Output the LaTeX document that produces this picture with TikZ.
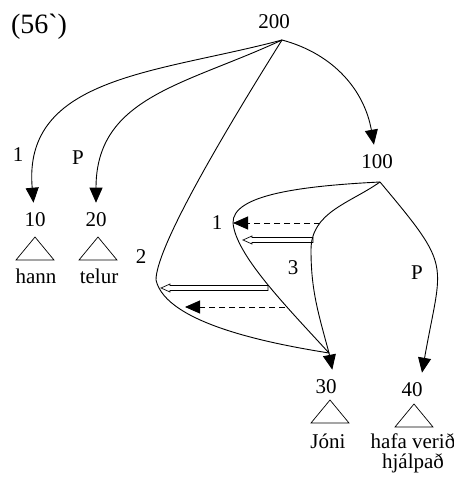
\documentclass[tikz,border=0pt]{standalone}
\usepackage{fontspec}
\setmainfont{Liberation Serif}
\newfontfamily\rawserif{Liberation Serif}
\usetikzlibrary{arrows.meta,calc}
\tikzset{
  line/.style={line width=0.9pt},
  edge/.style={line,-{Triangle[length=15pt,width=13pt]}},
  dsh/.style={edge,dash pattern=on 6pt off 4pt},
  num/.style={inner xsep=0pt,inner ysep=10pt},
  lab/.style={inner sep=0pt},
  word/.style={inner sep=0pt,anchor=base,align=center},
}
\newcommand\hollowarrow[2]{%
  \draw[line width=0.7pt] ($(#1)+(0,2.5)$) -- ($(#2)+(9,2.5)$) -- ($(#2)+(9,4)$) -- (#2)
    -- ($(#2)+(9,-4)$) -- ($(#2)+(9,-2.5)$) -- ($(#1)+(0,-2.5)$) -- cycle;}
\begin{document}
\begin{tikzpicture}[x=1pt,y=1pt,font=\fontsize{21}{20}\selectfont]
    \useasboundingbox (0,0) rectangle (454,-480);
    \node[lab,font=\fontsize{28}{30}\selectfont\rawserif] (ex) at (39,-27) {(56`)};
    \node[num] (n200) at (274,-22) {200};
    \node[num] (n100) at (377,-162) {100};
    \node[num] (n10) at (35,-220) {10};
    \node[num] (n20) at (96,-220) {20};
    \node[num] (n30) at (326,-387) {30};
    \node[num] (n40) at (412,-390) {40};
    \coordinate (r200) at (282,-40);
    \coordinate (r100) at (380,-182);
    \coordinate (j30) at (329,-353);
    \coordinate (l1) at (233,-223);
    \coordinate (l2) at (156,-280);
    \coordinate (l3) at (311,-250);
    \foreach \x/\y in {35/237, 98/237, 330/400, 414/404}
        \draw[line width=0.7pt] (\x,-\y) -- ++(-19,-23) -- ++(38,0) -- cycle;
    \node[word] (w10) at (36,-283) {hann};
    \node[word] (w20) at (99,-283) {telur};
    \node[word] (w30) at (328,-448) {Jóni};
    \node[word] (w40) at (413,-468) {hafa verið\\hjálpað};
    \draw[edge] (r200) to[out=195,in=95,looseness=1.1] (n10);
    \draw[edge] (r200) to[out=205,in=90,looseness=1.1] (n20);
    \draw[edge] (r200) to[out=-15,in=100] (n100);
    \draw[line] (r200) .. controls (213,-150) and (156,-250) .. (l2)
        .. controls (166,-324) and (273,-344) .. (j30);
    \draw[line] (r100) .. controls (300,-186) and (232,-195) .. (l1)
        .. controls (236,-255) and (285,-305) .. (j30);
    \draw[line] (r100) to[out=215,in=90] (l3) to[out=-90,in=105] (j30);
    \draw[edge] (j30) -- (n30.70);
    \draw[edge] (r100) to[out=-50,in=80,looseness=1.5] (n40.60);
    \coordinate (d1) at (320,-223);
    \coordinate (d2) at (285,-307);
    \coordinate (d3) at (185,-307);
    \draw[dsh] (d1) -- (l1);
    \draw[dsh] (d2) -- (d3);
    \coordinate (h1) at (313,-240);
    \coordinate (h2) at (243,-240);
    \coordinate (h3) at (268,-288);
    \coordinate (h4) at (161,-288);
    \hollowarrow{h1}{h2}
    \hollowarrow{h3}{h4}
    \node[lab] (e1) at (18,-155) {1};
    \node[lab] (e2) at (78,-158) {P};
    \node[lab] (e3) at (141,-257) {2};
    \node[lab] (e4) at (217,-223) {1};
    \node[lab] (e5) at (293,-268) {3};
    \node[lab] (e6) at (417,-273) {P};
\end{tikzpicture}
\end{document}
